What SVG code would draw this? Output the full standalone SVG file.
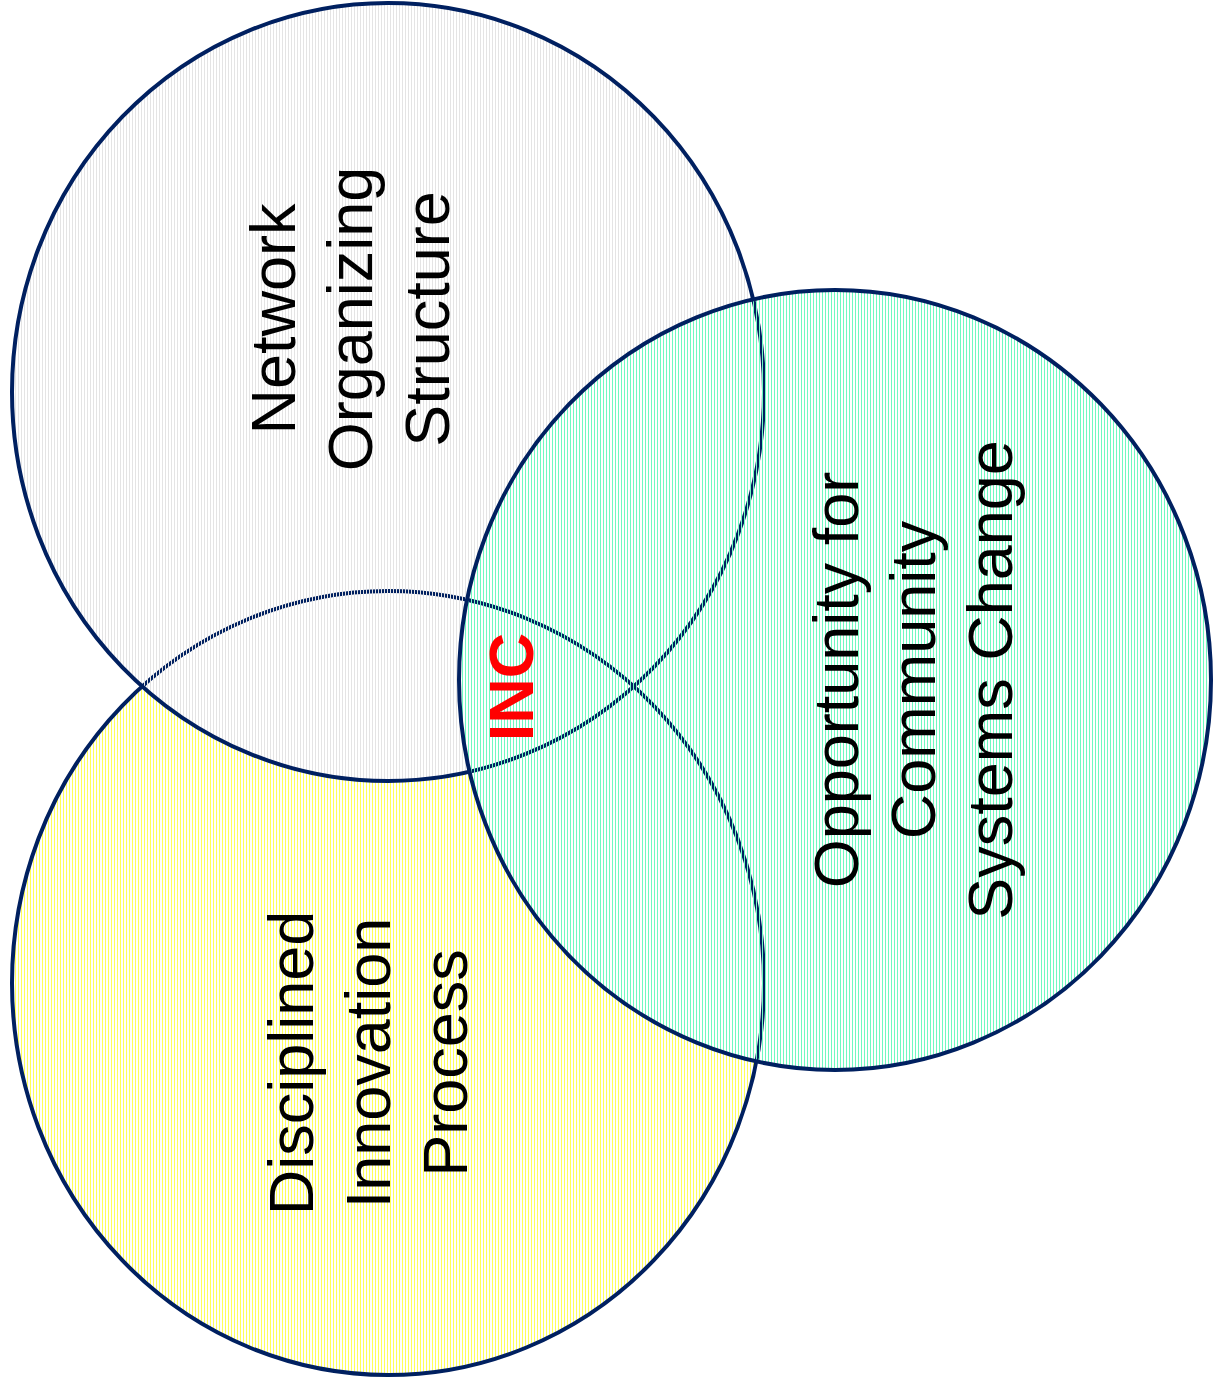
<svg xmlns="http://www.w3.org/2000/svg" width="1213" height="1389" viewBox="0 0 1213 1389">
<defs>
<pattern id="pGray" patternUnits="userSpaceOnUse" x="0" y="0" width="3" height="10"><rect x="0" y="0" width="1" height="10" fill="#e4e4e4"/></pattern>
<pattern id="pYellow" patternUnits="userSpaceOnUse" x="0" y="0" width="3" height="10"><rect x="0" y="0" width="1" height="10" fill="#ffff5a"/></pattern>
<pattern id="pGreen" patternUnits="userSpaceOnUse" x="0" y="0" width="3" height="10"><rect x="0" y="0" width="1" height="10" fill="#70f8c0"/></pattern>
</defs>
<style>
.c{stroke:#002060;stroke-width:4}
.t{font-family:"Liberation Sans",Arial,sans-serif;font-size:63px;fill:#000;text-anchor:middle}
.inc{font-family:"Liberation Sans",Arial,sans-serif;font-size:63px;font-weight:bold;fill:#ff0000;text-anchor:middle}
</style>
<rect width="1213" height="1389" fill="#ffffff"/>
<g id="node-process">
<ellipse class="c" cx="388" cy="983" rx="376" ry="392" fill="url(#pYellow)"/>
</g>
<g id="node-network">
<ellipse class="c" cx="388" cy="392" rx="376" ry="389" fill="url(#pGray)"/>
</g>
<g id="node-opportunity">
<ellipse class="c" cx="835" cy="680" rx="376" ry="390" fill="url(#pGreen)"/>
</g>
<g id="labels">
<text class="t" transform="translate(295,319) rotate(-90)">Network</text>
<text class="t" transform="translate(372,319) rotate(-90)">Organizing</text>
<text class="t" transform="translate(449,319) rotate(-90)">Structure</text>
<text class="t" transform="translate(313,1063) rotate(-90)">Disciplined</text>
<text class="t" transform="translate(390,1063) rotate(-90)">Innovation</text>
<text class="t" transform="translate(467,1063) rotate(-90)">Process</text>
<text class="t" transform="translate(858,680) rotate(-90)">Opportunity for</text>
<text class="t" transform="translate(935,680) rotate(-90)">Community</text>
<text class="t" transform="translate(1012,680) rotate(-90)">Systems Change</text>
<text class="inc" transform="translate(533,687) rotate(-90)">INC</text>
</g>
<g id="connectors"/>
</svg>
